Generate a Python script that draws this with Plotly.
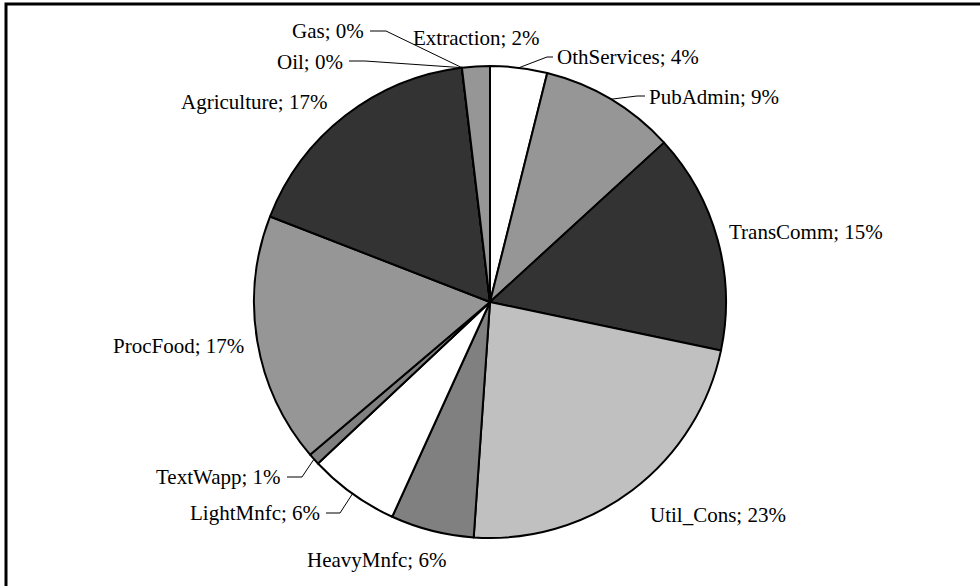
import numpy as np
import plotly.graph_objects as go

sectors = ["OthServices", "PubAdmin", "TransComm", "Util_Cons", "HeavyMnfc", "LightMnfc",
           "TextWapp", "ProcFood", "Agriculture", "Oil", "Gas", "Extraction"]
shares = [3.9, 9.3, 15.1, 22.8, 5.7, 6.2, 0.8, 17.1, 17.2, 0.0, 0.0, 1.9]
colors = ["#ffffff", "#969696", "#333333", "#c0c0c0", "#808080", "#ffffff",
          "#808080", "#969696", "#333333", "#333333", "#c0c0c0", "#969696"]

W, H = 980, 586
CX, CY, R = 490, 302, 236

# label placement in pixels: x, y, anchor, elbow of leader line (None = no line)
label_layout = {
    "OthServices": (555, 57, "left", (547, 57)),
    "PubAdmin": (647, 97, "left", (637, 96)),
    "TransComm": (727, 232, "left", None),
    "Util_Cons": (648, 515, "left", None),
    "HeavyMnfc": (376, 560, "center", None),
    "LightMnfc": (322, 513, "right", (340, 513)),
    "TextWapp": (283, 477, "right", (302, 477)),
    "ProcFood": (246, 346, "right", None),
    "Agriculture": (329, 102, "right", None),
    "Oil": (345, 62, "right", (365, 61)),
    "Gas": (366, 31, "right", (386, 31)),
    "Extraction": (476, 38, "center", None),
}


def px(x, y):
    return x / W, 1 - y / H


fig = go.Figure()
fig.add_trace(
    go.Pie(
        labels=sectors,
        values=shares,
        sort=False,
        direction="clockwise",
        rotation=0,
        textinfo="none",
        hoverinfo="label+percent",
        marker=dict(colors=colors, line=dict(color="black", width=2)),
        domain=dict(x=[(CX - R) / W, (CX + R) / W], y=[1 - (CY + R) / H, 1 - (CY - R) / H]),
        showlegend=False,
    )
)

total = sum(shares)
cum = np.cumsum([0] + shares)
annotations = []
shapes = []
font = dict(family="Liberation Serif, Times New Roman, serif", size=21, color="black")
for i, name in enumerate(sectors):
    pct = round(shares[i] / total * 100)
    x, y, anchor, elbow = label_layout[name]
    ax, ay = px(x, y)
    annotations.append(
        dict(x=ax, y=ay, xref="paper", yref="paper", text=f"{name}; {pct}%",
             showarrow=False, xanchor=anchor, yanchor="middle", font=font)
    )
    if elbow is not None:
        theta = np.deg2rad((cum[i] + shares[i] / 2) / total * 360)
        ex, ey = CX + R * np.sin(theta), CY - R * np.cos(theta)
        tx = x + 4 if anchor == "right" else x - 2
        pts = [px(ex, ey), px(*elbow), px(tx, elbow[1])]
        path = "M " + " L ".join(f"{p[0]},{p[1]}" for p in pts)
        shapes.append(dict(type="path", xref="paper", yref="paper", path=path,
                           line=dict(color="black", width=1)))

# outer frame of the chart area
shapes.append(dict(type="rect", xref="paper", yref="paper",
                   x0=6 / W, y0=-0.1, x1=1.1, y1=1 - 4 / H,
                   line=dict(color="black", width=3)))

fig.update_layout(
    width=W,
    height=H,
    margin=dict(l=0, r=0, t=0, b=0),
    paper_bgcolor="white",
    plot_bgcolor="white",
    annotations=annotations,
    shapes=shapes,
)

fig.write_html(
    "out.html",
    config={"displayModeBar": False},
    post_script="document.body.style.margin='0';document.body.style.overflow='hidden';",
)
